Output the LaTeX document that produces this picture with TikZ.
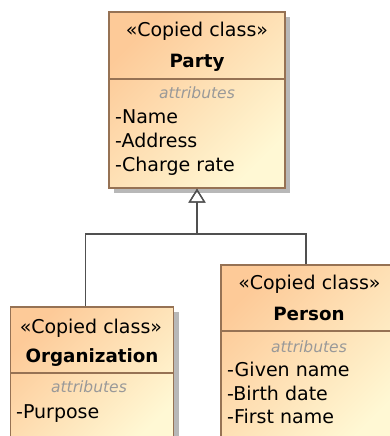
\documentclass[tikz,border=0pt]{standalone}
\usepackage{fontspec}
\setmainfont{DejaVu Sans}
\usepackage{tikz}
\usetikzlibrary{arrows.meta,shadows}
\definecolor{boxborder}{RGB}{150,114,84}
\definecolor{boxtop}{RGB}{253,202,152}
\definecolor{boxbottom}{RGB}{255,248,212}
\definecolor{linkcolor}{RGB}{80,80,80}
\tikzstyle{classbox} = [draw=boxborder, line width=1.3pt, inner sep=0pt,
    top color=boxtop, bottom color=boxbottom, shading angle=45,
    drop shadow={shadow xshift=5pt, shadow yshift=-5pt, fill=black!28, opacity=1}]
\tikzstyle{divider} = [draw=boxborder, line width=1.2pt]
\tikzstyle{stereo} = [anchor=base, inner sep=0pt, text=black,
    font=\fontsize{19}{23}\selectfont]
\tikzstyle{title} = [anchor=base, inner sep=0pt,
    font=\bfseries\fontsize{18.3}{22}\selectfont]
\tikzstyle{compartment} = [anchor=base, inner sep=0pt, text=black!40,
    font=\itshape\fontsize{15.5}{18}\selectfont]
\tikzstyle{attr} = [anchor=base west, inner sep=0pt, text=black,
    font=\fontsize{19}{23}\selectfont]
\tikzstyle{generalization} = [draw=linkcolor, line width=1.3pt,
    -{Triangle[open, length=14pt, width=17pt, line width=1.3pt]}]

\begin{document}
\begin{tikzpicture}[x=1pt, y=-1pt]
    \useasboundingbox (0,0) rectangle (390,436);
    \clip (0,0) rectangle (390,436);

    % Party
    \node [classbox, minimum width=176pt, minimum height=176pt] (party) at (197,100) {};
    \coordinate (partysep) at (0,79);
    \draw [divider] (party.west |- partysep) -- (party.east |- partysep);
    \node [stereo] (partyst) at (197,37) {«Copied class»};
    \node [title] (partyname) at (197,67) {Party};
    \node [compartment] (partyattr) at (197,98) {attributes};
    \node [attr] (partya1) at (115,123) {-Name};
    \node [attr] (partya2) at (115,147) {-Address};
    \node [attr] (partya3) at (115,171) {-Charge rate};

    % Organization
    \node [classbox, minimum width=163pt, minimum height=140pt] (org) at (92.3,377) {};
    \coordinate (orgsep) at (0,373);
    \draw [divider] (org.west |- orgsep) -- (org.east |- orgsep);
    \node [stereo] (orgst) at (91,333) {«Copied class»};
    \node [title] (orgname) at (92,362) {Organization};
    \node [compartment] (orgattr) at (89,392) {attributes};
    \node [attr] (orga1) at (16,418) {-Purpose};

    % Person
    \node [classbox, minimum width=176pt, minimum height=182pt] (person) at (309,356) {};
    \coordinate (personsep) at (0,331);
    \draw [divider] (person.west |- personsep) -- (person.east |- personsep);
    \node [stereo] (personst) at (309.5,289) {«Copied class»};
    \node [title] (personname) at (309,320) {Person};
    \node [compartment] (personattr) at (309,352) {attributes};
    \node [attr] (persona1) at (227,376) {-Given name};
    \node [attr] (persona2) at (227,400) {-Birth date};
    \node [attr] (persona3) at (227,423) {-First name};

    % Generalization tree
    \coordinate (split) at (197,234);
    \draw [generalization] ([xshift=-7pt]org.north) |- (split) -- (party.south);
    \draw [generalization] ([xshift=-3pt]person.north) |- (split) -- (party.south);
\end{tikzpicture}
\end{document}
